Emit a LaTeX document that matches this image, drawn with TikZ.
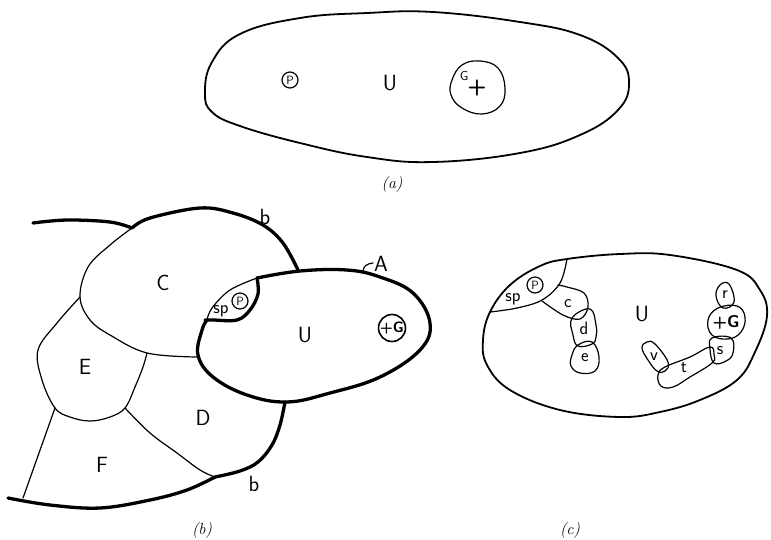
\documentclass[tikz,border=0pt]{standalone}
\usetikzlibrary{calc}
\begin{document}
\begin{tikzpicture}[x=1pt,y=-1pt,line join=round,line cap=round,
  thinln/.style={line width=1.2pt},
  medln/.style={line width=1.8pt},
  thickln/.style={line width=3.3pt},
  lbl/.style={font=\fontsize{22}{22}\selectfont\sffamily, inner sep=0pt},
  slbl/.style={font=\fontsize{18}{18}\selectfont\sffamily, inner sep=0pt},
  pcirc/.style={circle, draw, line width=1.2pt, inner sep=0pt, minimum size=16pt, font=\fontsize{12}{12}\selectfont\sffamily},
  gcirc/.style={circle, draw, line width=1.6pt, inner sep=0pt, minimum size=27pt, font=\fontsize{15}{15}\selectfont\sffamily\bfseries},
  captxt/.style={font=\fontsize{16}{16}\selectfont\itshape, inner sep=0pt}]
\useasboundingbox (0,0) rectangle (771,539);

% ---------------- (a) ----------------
\draw[medln] plot[smooth cycle, tension=0.7] coordinates {
  (205,93) (212,62) (240,34) (300,18) (367,13) (433,12) (520,22) (580,35)
  (618,58) (629,83) (618,110) (580,135) (520,153) (433,162) (367,157)
  (300,143) (240,126) (212,112)};
\node[pcirc] (aP) at (290,80) {P};
\node[lbl] (aU) at (390,83) {U};
\draw[thinln] plot[smooth cycle, tension=0.7] coordinates {
  (452,80) (462,65) (480,61) (498,68) (505,88) (500,106) (482,114) (462,108) (451,95)};
\node[font=\fontsize{13}{13}\selectfont\sffamily, inner sep=0pt] (aG) at (464,76) {G};
\node[font=\fontsize{22}{22}\selectfont\sffamily\bfseries, inner sep=0pt] (aplus) at (477,88) {+};
\node[captxt] (capa) at (392,185) {(a)};

% ---------------- (b) ----------------
\draw[thickln] plot[smooth, tension=0.6] coordinates {(33,223) (67,220) (110,222) (132,228)};
\draw[thickln] plot[smooth, tension=0.6] coordinates {(132,228) (150,218) (200,208) (233,213) (263,225) (283,243) (298,270)};
\draw[thinln] plot[smooth, tension=0.6] coordinates {(132,228) (110,245) (88,267) (80,297) (90,320) (110,335) (147,353) (197,357)};
\draw[thinln] plot[smooth, tension=0.6] coordinates {(80,297) (57,323) (38,350) (42,380) (55,408) (70,417) (90,421) (110,417) (125,408) (135,387) (143,367) (147,353)};
\draw[thinln] (55,408) -- (23,498);
\draw[thickln] plot[smooth, tension=0.6] coordinates {(8,498) (50,505) (100,508) (150,500) (187,490) (215,477)};
\draw[thinln] plot[smooth, tension=0.6] coordinates {(125,408) (150,433) (177,453) (200,470) (215,477)};
\draw[thickln] plot[smooth, tension=0.6] coordinates {(215,477) (240,471) (258,462) (272,445) (280,425) (285,402)};
\draw[thickln] plot[smooth, tension=0.65] coordinates {
  (257,278) (300,271) (347,270) (380,277) (413,293) (430,323) (420,350)
  (380,377) (330,393) (287,402) (247,395) (213,377) (198,355) (202,330) (207,320)};
\draw[thinln] plot[smooth, tension=0.6] coordinates {(207,320) (212,308) (230,290) (257,278)};
\draw[thickln] plot[smooth, tension=0.6] coordinates {(257,278) (258,294) (250,310) (237,320) (213,320) (205,320)};
\node[slbl] (bsp) at (221,311) {sp};
\node[pcirc] (bP) at (240,301) {P};
\node[lbl] (bC) at (163,283) {C};
\node[lbl] (bE) at (85,367) {E};
\node[lbl] (bD) at (203,418) {D};
\node[lbl] (bF) at (102,465) {F};
\node[lbl] (bU) at (305,335) {U};
\node[gcirc] (bG) at (392,328) {+G};
\node[lbl] (bb1) at (265,217) {b};
\node[lbl] (bb2) at (254,484) {b};
\node[lbl] (bA) at (381,264) {A};
\draw[thinln] (363,271) .. controls (364,266) and (366,264) .. (373,263);
\node[captxt] (capb) at (202,530) {(b)};

% ---------------- (c) ----------------
\draw[medln] plot[smooth cycle, tension=0.65] coordinates {
  (483,340) (490,312) (510,285) (540,266) (567,259) (620,254) (670,255)
  (737,270) (760,290) (767,316) (755,352) (737,380) (700,400) (660,412)
  (620,417) (560,410) (510,390) (487,365)};
\draw[thinln] plot[smooth, tension=0.6] coordinates {(490,312) (517,308) (542,300) (560,283) (567,259)};
% c blob
\draw[thinln] plot[smooth, tension=0.6] coordinates {(542,301) (563,315) (580,319) (588,307) (584,293) (567,287) (558,285)};
% d blob
\draw[thinln] plot[smooth cycle, tension=0.7] coordinates {(572,318) (590,309) (596,325) (596,337) (592,344) (578,346) (573,335)};
% e blob
\draw[thinln] plot[smooth cycle, tension=0.7] coordinates {(578,345) (592,342) (599,357) (595,371) (580,373) (571,366) (572,355)};
% r blob
\draw[thinln] plot[smooth cycle, tension=0.7] coordinates {(716,296) (720,285) (729,284) (734,302) (723,308)};
% +G blob
\draw[thinln] plot[smooth cycle, tension=0.7] coordinates {(708,320) (718,308) (737,306) (745,317) (741,332) (728,339) (712,335)};
% s blob
\draw[thinln] plot[smooth cycle, tension=0.7] coordinates {(712,338) (731,338) (733,353) (726,361) (714,363) (710,349)};
% t blob
\draw[thinln] plot[smooth cycle, tension=0.7] coordinates {(658,375) (665,367) (690,357) (710,347) (714,355) (712,363) (690,377) (673,387) (661,386)};
% v blob
\draw[thinln] plot[smooth cycle, tension=0.7] coordinates {(642,348) (647,342) (655,344) (668,362) (665,371) (657,371) (648,360)};
\node[slbl] (csp) at (513,299) {sp};
\node[pcirc] (cP) at (535,285) {P};
\node[slbl] (cc) at (568,304) {c};
\node[slbl] (cd) at (584,328) {d};
\node[slbl] (ce) at (585,358) {e};
\node[lbl] (cU) at (642,314) {U};
\node[font=\fontsize{17}{17}\selectfont\sffamily\bfseries, inner sep=0pt] (cG) at (726,322) {+G};
\node[slbl] (cr) at (725,295) {r};
\node[slbl] (cs) at (720,351) {s};
\node[slbl] (ct) at (684,368) {t};
\node[slbl] (cv) at (654,357) {v};
\node[captxt] (capc) at (570,530) {(c)};
\end{tikzpicture}
\end{document}
